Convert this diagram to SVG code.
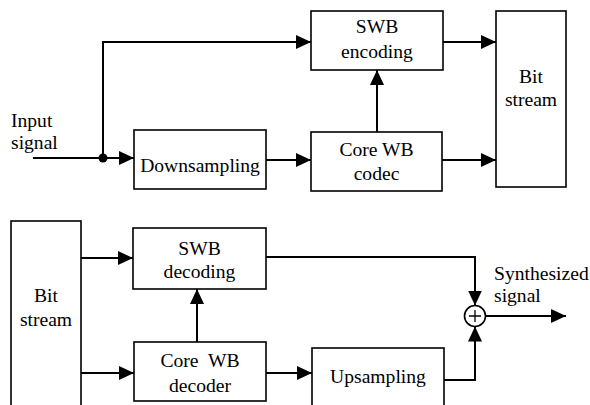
<svg xmlns="http://www.w3.org/2000/svg" width="590" height="405" viewBox="0 0 590 405" font-family="'Liberation Serif', 'DejaVu Serif', serif">
  <style>
    .box { fill: #fff; stroke: #000; stroke-width: 1.6; }
    .wire { fill: none; stroke: #000; stroke-width: 2; }
    text { font-family: "Liberation Serif", "DejaVu Serif", serif; font-size: 19.6px; fill: #000; }
    .c { text-anchor: middle; }
  </style>
  <defs>
    <marker id="arr" markerUnits="userSpaceOnUse" markerWidth="15" markerHeight="14" refX="15" refY="7" orient="auto">
      <path d="M0,0 L15,7 L0,14 z" fill="#000"/>
    </marker>
  </defs>

  <!-- encoder -->
  <g id="input-label">
    <text x="11" y="127">Input</text>
    <text x="11" y="149">signal</text>
  </g>
  <g id="swb-encoding">
    <rect class="box" x="311" y="11" width="132" height="59"/>
    <text class="c" x="377" y="33">SWB</text>
    <text class="c" x="377" y="58">encoding</text>
  </g>
  <g id="bitstream-enc">
    <rect class="box" x="496" y="11" width="70" height="176"/>
    <text class="c" x="531" y="83">Bit</text>
    <text class="c" x="531" y="106">stream</text>
  </g>
  <g id="downsampling">
    <rect class="box" x="134" y="130" width="132" height="59"/>
    <text class="c" x="200" y="172">Downsampling</text>
  </g>
  <g id="core-wb-codec">
    <rect class="box" x="311" y="132" width="131" height="59"/>
    <text class="c" x="376.5" y="156">Core WB</text>
    <text class="c" x="376.5" y="180">codec</text>
  </g>

  <!-- decoder -->
  <g id="bitstream-dec">
    <rect class="box" x="11" y="221" width="70" height="200"/>
    <text class="c" x="46" y="302">Bit</text>
    <text class="c" x="46" y="326">stream</text>
  </g>
  <g id="swb-decoding">
    <rect class="box" x="133" y="228" width="133" height="61"/>
    <text class="c" x="199.5" y="255">SWB</text>
    <text class="c" x="199.5" y="278">decoding</text>
  </g>
  <g id="core-wb-decoder">
    <rect class="box" x="134" y="342" width="132" height="59"/>
    <text class="c" x="200" y="367" word-spacing="5">Core WB</text>
    <text class="c" x="200" y="392">decoder</text>
  </g>
  <g id="upsampling">
    <rect class="box" x="312" y="348" width="132" height="80"/>
    <text class="c" x="378" y="383">Upsampling</text>
  </g>
  <g id="adder">
    <circle cx="475" cy="316" r="10.5" fill="#fff" stroke="#000" stroke-width="1.6"/>
    <path d="M475,310 V322 M469,316 H481" stroke="#000" stroke-width="1.3" fill="none"/>
  </g>
  <g id="output-label">
    <text x="494" y="280">Synthesized</text>
    <text x="494" y="302">signal</text>
  </g>

  <g id="connectors">
    <path class="wire" d="M33,158 H103"/>
    <circle cx="103" cy="158" r="4.5" fill="#000"/>
    <path class="wire" d="M103,158 V42 H311" marker-end="url(#arr)"/>
    <path class="wire" d="M103,158 H134" marker-end="url(#arr)"/>
    <path class="wire" d="M266,160 H311" marker-end="url(#arr)"/>
    <path class="wire" d="M377,132 V70" marker-end="url(#arr)"/>
    <path class="wire" d="M443,42 H496" marker-end="url(#arr)"/>
    <path class="wire" d="M442,160 H496" marker-end="url(#arr)"/>

    <path class="wire" d="M81,258 H133" marker-end="url(#arr)"/>
    <path class="wire" d="M81,373 H134" marker-end="url(#arr)"/>
    <path class="wire" d="M197,342 V289" marker-end="url(#arr)"/>
    <path class="wire" d="M266,373 H312" marker-end="url(#arr)"/>
    <path class="wire" d="M266,257 H475 V305.5" marker-end="url(#arr)"/>
    <path class="wire" d="M444,380 H475 V326.5" marker-end="url(#arr)"/>
    <path class="wire" d="M485.5,316 H566" marker-end="url(#arr)"/>
  </g>
</svg>
